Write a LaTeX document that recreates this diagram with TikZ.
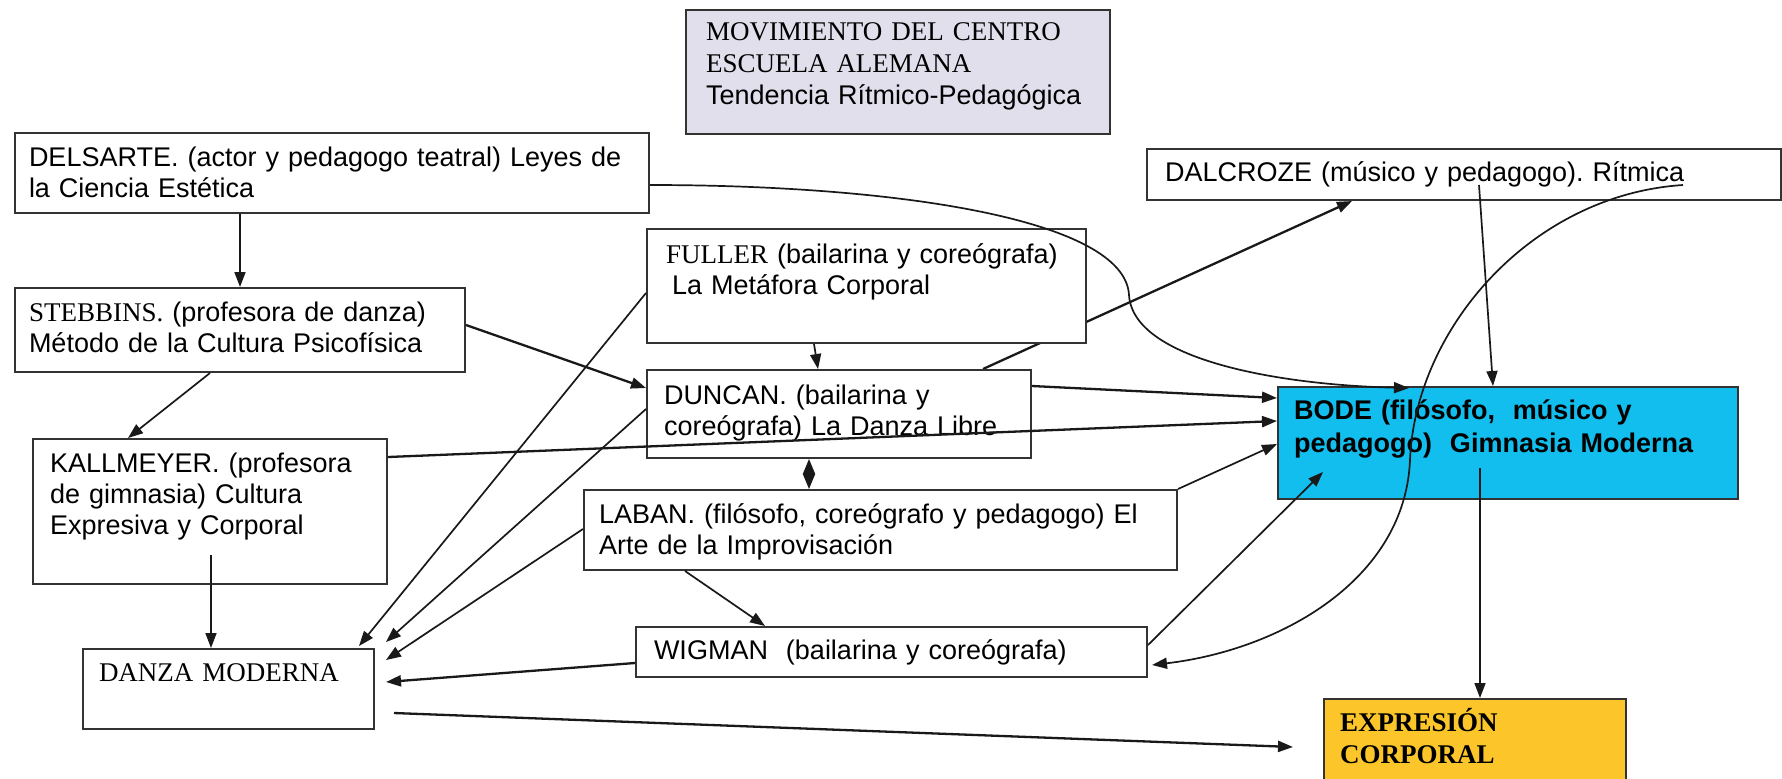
\documentclass[tikz,border=0pt]{standalone}
\usepackage{fontspec}
\setmainfont{Liberation Sans}
\newfontfamily\tnr{Liberation Serif}
\usetikzlibrary{arrows.meta,calc,backgrounds}
\definecolor{movfill}{RGB}{226,223,237}
\definecolor{bodefill}{RGB}{18,190,237}
\definecolor{exprfill}{RGB}{252,198,42}
\frenchspacing
\begin{document}
\begin{tikzpicture}[x=0.5pt,y=-0.5pt,
  box/.style={draw=black!80, line width=1pt, fill=white, anchor=north west,
    inner sep=0pt, inner xsep=8pt, align=left,
    font=\fontsize{13.5pt}{15.5pt}\selectfont\frenchspacing, text height=16.5pt},
  conn/.style={draw=black!90, line width=0.85pt, -{Triangle[length=7.5pt,width=5.5pt]}},
  thick conn/.style={conn, line width=1.15pt},
]
\useasboundingbox (0,0) rectangle (1782,778);

% boxes
\node[box, fill=movfill, inner xsep=10pt, text width=192pt, text height=15pt, text depth=47pt,
  font=\fontsize{13.5pt}{16pt}\selectfont\frenchspacing] (mov) at (685,9)
  {{\tnr MOVIMIENTO DEL CENTRO}\\{\tnr ESCUELA ALEMANA}\\Tendencia Rítmico-Pedagógica};
\node[box, inner xsep=7pt, text width=303pt, text depth=23.5pt] (delsarte) at (14,132)
  {DELSARTE. (actor y pedagogo teatral) Leyes de\\la Ciencia Estética};
\node[box, inner xsep=9pt, text width=299pt, text height=16pt, text depth=9.5pt] (dalcroze) at (1146,148)
  {DALCROZE (músico y pedagogo). Rítmica};
\node[box, inner xsep=9.5pt, text width=200.5pt, text height=17pt, text depth=40pt] (fuller) at (646,228)
  {{\tnr FULLER} (bailarina y coreógrafa)\\\hspace*{3pt}La Metáfora Corporal};
\node[box, inner xsep=7pt, text width=211pt, text depth=25.5pt] (stebbins) at (14,287)
  {{\tnr STEBBINS.} (profesora de danza)\\Método de la Cultura Psicofísica};
\node[box, inner xsep=8.5pt, text width=175pt, text height=17pt, text depth=27pt] (duncan) at (646,369)
  {DUNCAN. (bailarina y\\coreógrafa) La Danza Libre};
\node[box, fill=bodefill, text width=214pt, text height=16pt, text depth=40pt,
  font=\fontsize{13.5pt}{16.5pt}\selectfont\bfseries\frenchspacing] (bode) at (1277,386)
  {BODE (filósofo,\ \ músico y\\pedagogo)\ \ Gimnasia Moderna};
\node[box, inner xsep=8.5pt, text width=160pt, text depth=56pt] (kallmeyer) at (32,438)
  {KALLMEYER. (profesora\\de gimnasia) Cultura\\Expresiva y Corporal};
\node[box, inner xsep=7.5pt, text width=281.5pt, text depth=23.5pt] (laban) at (583,489)
  {LABAN. (filósofo, coreógrafo y pedagogo) El\\Arte de la Improvisación};
\node[box, inner xsep=9pt, text width=237.5pt, text height=16pt, text depth=9pt] (wigman) at (635,626)
  {WIGMAN\ \ (bailarina y coreógrafa)};
\node[box, text width=129.5pt, text height=16pt, text depth=24pt] (danza) at (82,648)
  {\tnr DANZA MODERNA};
\node[box, fill=exprfill, text width=135pt, text height=16pt, text depth=26pt,
  font=\fontsize{13.5pt}{16pt}\selectfont\tnr\bfseries] (expr) at (1323,698)
  {EXPRESIÓN\\CORPORAL};

% connector hidden behind FULLER
\begin{scope}[on background layer]
\draw[thick conn] ($(duncan.north west)+(337,0)$) -- ($(dalcroze.south west)+(206,0)$);
\end{scope}

% connectors
\draw[conn] ($(delsarte.south west)+(226,0)$) -- ($(stebbins.north west)+(226,0)$);
\draw[conn] ($(stebbins.south west)+(196,0)$) -- ($(kallmeyer.north west)+(96,0)$);
\draw[thick conn] ($(stebbins.north east)+(0,38)$) -- ($(duncan.north west)+(0,19)$);
\draw[conn] ($(delsarte.north east)+(0,53)$) .. controls (900,185) and (1125,220) .. (1129,295)
  .. controls (1133,360) and (1280,385) .. ($(bode.north west)+(132,2)$);
\draw[conn] ($(fuller.south west)+(168,0)$) -- ($(duncan.north west)+(172,0)$);
\draw[conn] ($(dalcroze.north west)+(333,37)$) -- ($(bode.north west)+(216,0)$);
\draw[conn] ($(dalcroze.north west)+(537,37)$) .. controls (1530,195) and (1415,330) .. (1410,460)
  .. controls (1405,580) and (1280,650) .. ($(wigman.north east)+(4,39)$);
\draw[thick conn] ($(duncan.north east)+(0,17)$) -- ($(bode.north west)+(0,12)$);
\draw[thick conn] ($(kallmeyer.north east)+(0,19)$) -- ($(bode.north west)+(0,35)$);
\draw[conn] (laban.north east) -- ($(bode.north west)+(0,58)$);
\draw[conn, {Triangle[length=7.5pt,width=6pt]}-{Triangle[length=7.5pt,width=6pt]}]
  ($(duncan.south west)+(163,0)$) -- ($(laban.north west)+(226,0)$);
\draw[conn] ($(fuller.north west)+(0,65)$) -- ($(danza.north east)+(-16,-2)$);
\draw[conn] ($(duncan.north west)+(0,40)$) -- ($(danza.north east)+(11,-6)$);
\draw[conn] ($(laban.north west)+(0,40)$) -- ($(danza.north east)+(11,12)$);
\draw[thick conn] ($(wigman.north west)+(0,37)$) -- ($(danza.north east)+(11,34)$);
\draw[conn] ($(laban.south west)+(102,0)$) -- ($(wigman.north west)+(130,0)$);
\draw[conn] ($(wigman.north east)+(0,19)$) -- ($(bode.north west)+(46,86)$);
\draw[conn] ($(bode.north west)+(203,82)$) -- ($(expr.north west)+(157,0)$);
\draw[conn] ($(kallmeyer.south west)+(179,-30)$) -- ($(danza.north west)+(129,0)$);
\draw[thick conn] ($(danza.north east)+(19,65)$) -- ($(expr.north west)+(-30,49)$);
\end{tikzpicture}
\end{document}
